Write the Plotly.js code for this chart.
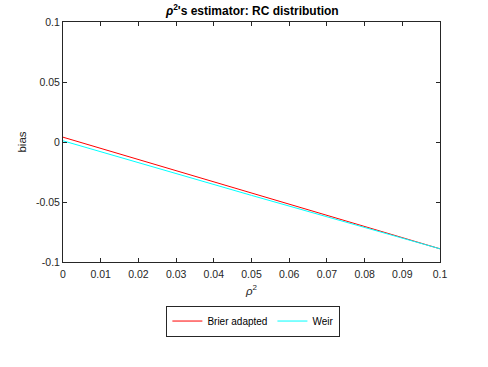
<!DOCTYPE html>
<html>
<head>
<meta charset="utf-8">
<script src="https://cdn.plot.ly/plotly-3.0.1.min.js"></script>
<style>
  html, body { margin: 0; padding: 0; background: #fff; }
  #chart { width: 488px; height: 367px; }
</style>
</head>
<body>
<div id="chart"></div>
<script>
// values
const rho2 = [0, 0.05, 0.1];
const brierBias = [0.004, -0.0425, -0.089];
const weirBias = [0.001, -0.0445, -0.089];

const xTicks = [0, 0.01, 0.02, 0.03, 0.04, 0.05, 0.06, 0.07, 0.08, 0.09, 0.1];
const xTickText = ['0', '0.01', '0.02', '0.03', '0.04', '0.05', '0.06', '0.07', '0.08', '0.09', '0.1'];
const yTicks = [-0.1, -0.05, 0, 0.05, 0.1];
const yTickText = ['-0.1', '-0.05', '0', '0.05', '0.1'];

const axisColor = '#262626';
const font = 'Liberation Sans, Arial, sans-serif';

const traces = [
  {
    x: rho2, y: brierBias, name: 'Brier adapted',
    type: 'scatter', mode: 'lines',
    line: { color: '#ff0000', width: 1 }
  },
  {
    x: rho2, y: weirBias, name: 'Weir',
    type: 'scatter', mode: 'lines',
    line: { color: '#00ffff', width: 1 }
  }
];

const axisBase = {
  showgrid: false,
  zeroline: false,
  showline: true,
  linecolor: axisColor,
  linewidth: 1,
  mirror: 'ticks',
  ticks: 'inside',
  ticklen: 4,
  tickcolor: axisColor,
  tickfont: { family: font, size: 10.5, color: axisColor },
  tickmode: 'array'
};

const layout = {
  width: 488,
  height: 367,
  margin: { l: 63, r: 48, t: 22, b: 105 },
  paper_bgcolor: '#ffffff',
  plot_bgcolor: '#ffffff',
  font: { family: font, color: axisColor },
  title: {
    text: '<b><i>ρ</i><sup>2</sup>\'s estimator: RC distribution</b>',
    font: { family: font, size: 12, color: '#000' },
    x: 0.517, xanchor: 'center',
    y: 0.97, yanchor: 'middle'
  },
  xaxis: Object.assign({}, axisBase, {
    range: [0, 0.1],
    tickvals: xTicks,
    ticktext: xTickText,
    ticklabelstandoff: 2,
    title: { text: '<i>ρ</i><sup>2</sup>', font: { family: font, size: 11.5, color: axisColor }, standoff: 8 }
  }),
  yaxis: Object.assign({}, axisBase, {
    range: [-0.1, 0.1],
    tickvals: yTicks,
    ticktext: yTickText,
    title: { text: 'bias', font: { family: font, size: 11.5, color: axisColor }, standoff: 6 }
  }),
  showlegend: true,
  legend: {
    orientation: 'h',
    x: 0.505, xanchor: 'center',
    y: -0.246, yanchor: 'middle',
    bgcolor: '#ffffff',
    bordercolor: axisColor,
    borderwidth: 1,
    font: { family: font, size: 10, color: '#000' },
    itemwidth: 30,
    tracegroupgap: 0
  }
};

Plotly.newPlot('chart', traces, layout, { displayModeBar: false, staticPlot: true });
</script>
</body>
</html>
